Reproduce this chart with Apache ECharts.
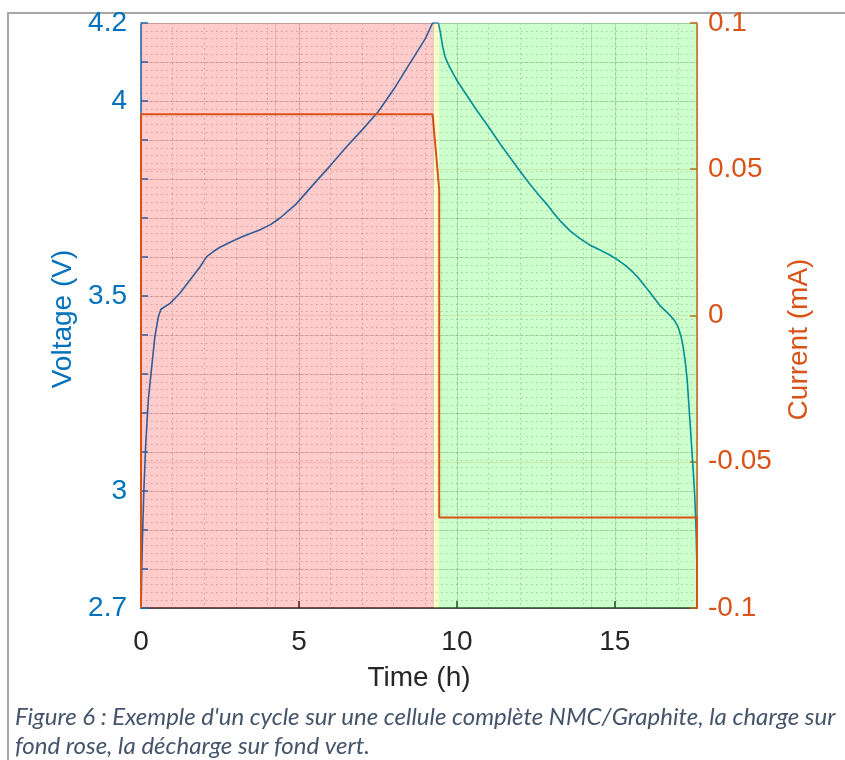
<!DOCTYPE html>
<html><head><meta charset="utf-8">
<script src="https://cdn.jsdelivr.net/npm/echarts@6/dist/echarts.min.js"></script>
<style>html,body{margin:0;padding:0;background:#fff;} #c{width:845px;height:760px;}</style>
</head><body><div id="c"></div>
<script>
// ---- data ----
const voltageTime = [0, 0.04, 0.09, 0.15, 0.23, 0.34, 0.44, 0.55, 0.63, 0.92, 1.23, 1.55, 1.87, 2.08, 2.29, 2.5, 2.82, 3.2, 3.77, 4.1, 4.4, 4.9, 5.5, 6.0, 6.5, 7.0, 7.5, 8.0, 8.5, 9.0, 9.23,
  9.41, 9.44, 9.48, 9.55, 9.62, 9.75, 9.99, 10.3, 10.62, 11.0, 11.36, 11.7, 12.0, 12.3, 12.63, 12.85, 13.04, 13.3, 13.58, 13.9, 14.2, 14.5, 14.84, 15.1, 15.32, 15.55, 15.74, 16.1, 16.42, 16.6, 16.74, 16.88, 17.0, 17.1, 17.16, 17.23, 17.29, 17.36, 17.43, 17.49, 17.53, 17.57, 17.595, 17.6];
const voltageValues = [2.70, 2.86, 3.0, 3.12, 3.233, 3.319, 3.396, 3.447, 3.466, 3.481, 3.507, 3.541, 3.575, 3.601, 3.614, 3.625, 3.638, 3.652, 3.67, 3.683, 3.70, 3.735, 3.79, 3.835, 3.882, 3.926, 3.972, 4.03, 4.095, 4.16, 4.2,
  4.2, 4.19, 4.174, 4.14, 4.114, 4.09, 4.054, 4.016, 3.977, 3.934, 3.891, 3.853, 3.82, 3.788, 3.755, 3.735, 3.715, 3.69, 3.667, 3.647, 3.631, 3.619, 3.605, 3.592, 3.579, 3.563, 3.547, 3.51, 3.476, 3.462, 3.451, 3.438, 3.421, 3.395, 3.37, 3.33, 3.285, 3.2, 3.114, 3.04, 2.985, 2.9, 2.815, 2.70];
const currentTime = [0, 0, 9.23, 9.33, 9.44, 9.44, 17.6, 17.6];
const currentValues = [-0.1, 0.0688, 0.0688, 0.0566, 0.0429, -0.0691, -0.0691, -0.1];
const phaseNames = ['charge', 'relaxation', 'décharge'];
const phaseStart = [0, 9.26, 9.43];
const phaseEnd = [9.26, 9.43, 17.6];
const timeTickLabels = [0, 5, 10, 15];
const voltageTickLabels = [2.7, 3, 3.5, 4, 4.2];
const currentTickLabels = [-0.1, -0.05, 0, 0.05, 0.1];
const overlayGridTimes = [4.26, 9.26, 14.26];
const caption = "Figure 6 : Exemple d'un cycle sur une cellule complète NMC/Graphite, la charge sur\nfond rose, la décharge sur fond vert.";

// ---- styles ----
const FONT = "'Liberation Sans', Arial, sans-serif";
const BLUE = '#0072BD', ORANGE = '#D95319', DARK = '#262626';
const phaseColors = ['rgba(255,0,0,0.2)', 'rgba(255,255,0,0.2)', 'rgba(0,255,0,0.2)'];
const gridSolid = 'rgba(38,38,38,0.15)';
const gridDot = 'rgba(38,38,38,0.28)';

const pick = (list, v) => { const r = Math.round(v * 1000) / 1000; return list.includes(r) ? String(r) : ''; };

const chart = echarts.init(document.getElementById('c'), null, {renderer: 'canvas'});
chart.setOption({
  animation: false,
  textStyle: {fontFamily: FONT},
  title: {
    text: caption, left: 10, top: 698,
    textStyle: {fontFamily: "Lato, 'Open Sans', sans-serif", fontStyle: 'italic', fontWeight: 'normal', fontSize: 24, color: '#44546A', lineHeight: 29}
  },
  graphic: [{type: 'rect', shape: {x: 8, y: 13, width: 860, height: 800}, style: {fill: 'none', stroke: '#A6A6A6', lineWidth: 2}, silent: true}],
  grid: {left: 141, top: 23, width: 556, height: 585},
  xAxis: [
    {type: 'value', min: 0, max: 17.6, interval: 5, position: 'bottom',
     axisLine: {show: true, onZero: false, lineStyle: {color: DARK, width: 1.5}},
     axisTick: {show: true, inside: true, length: 7, lineStyle: {color: DARK, width: 1.5}},
     axisLabel: {formatter: v => pick(timeTickLabels, v), fontSize: 28, color: DARK, margin: 20, fontFamily: FONT},
     splitLine: {show: true, lineStyle: {color: gridSolid, width: 1}},
     name: 'Time (h)', nameLocation: 'middle', nameGap: 56,
     nameTextStyle: {fontSize: 28, color: DARK, fontFamily: FONT}},
    {type: 'value', min: 0, max: 17.6, interval: 1, position: 'top',
     axisLine: {show: true, onZero: false, lineStyle: {color: '#c4c4c4', width: 1}},
     axisTick: {show: false}, axisLabel: {show: false},
     splitLine: {show: true, lineStyle: {color: gridDot, width: 1, type: [1.5, 3.5]}}}
  ],
  yAxis: [
    {type: 'value', position: 'left', min: 2.7, max: 4.2, interval: 0.1,
     axisLine: {show: true, onZero: false, lineStyle: {color: BLUE, width: 1.5}},
     axisTick: {show: true, inside: true, length: 7, lineStyle: {color: BLUE, width: 1.5}},
     axisLabel: {formatter: v => pick(voltageTickLabels, v), fontSize: 28, color: BLUE, margin: 14, fontFamily: FONT},
     splitLine: {show: true, lineStyle: {color: gridSolid, width: 1}},
     name: 'Voltage (V)', nameLocation: 'middle', nameGap: 53,
     nameTextStyle: {fontSize: 28, color: BLUE, fontFamily: FONT, padding: [0, 7, 0, 0]}},
    {type: 'value', position: 'right', min: -0.1, max: 0.1, interval: 0.05,
     axisLine: {show: true, onZero: false, lineStyle: {color: ORANGE, width: 1.5}},
     axisTick: {show: true, inside: true, length: 7, lineStyle: {color: ORANGE, width: 1.5}},
     axisLabel: {formatter: v => pick(currentTickLabels, v), fontSize: 28, color: ORANGE, margin: 11, fontFamily: FONT},
     splitLine: {show: true, lineStyle: {color: 'rgba(217,83,25,0.18)', width: 1}},
     name: 'Current (mA)', nameLocation: 'middle', nameGap: 88,
     nameTextStyle: {fontSize: 28, color: ORANGE, fontFamily: FONT, padding: [0, 48, 0, 0]}},
    {type: 'value', position: 'left', min: 2.7, max: 4.2, interval: 0.02,
     axisLine: {show: false}, axisTick: {show: false}, axisLabel: {show: false},
     splitLine: {show: true, lineStyle: {color: gridDot, width: 1, type: [1.5, 3.5]}}}
  ],
  series: [
    {name: 'Voltage', type: 'line', xAxisIndex: 0, yAxisIndex: 0, z: 2,
     data: voltageTime.map((t, i) => [t, voltageValues[i]]),
     showSymbol: false, lineStyle: {color: BLUE, width: 1.6}, itemStyle: {color: BLUE},
     markLine: {silent: true, symbol: 'none', label: {show: false},
       lineStyle: {color: gridSolid, type: 'solid', width: 1},
       data: overlayGridTimes.map(t => ({xAxis: t}))}},
    {name: 'Phases', type: 'custom', xAxisIndex: 0, yAxisIndex: 0, z: 3, silent: true, clip: true,
     data: phaseStart.map((s, i) => [s, phaseEnd[i], i]),
     renderItem: (params, api) => {
       const p0 = api.coord([api.value(0), 4.2]);
       const p1 = api.coord([api.value(1), 2.7]);
       return {type: 'rect', shape: {x: p0[0], y: p0[1], width: p1[0] - p0[0], height: p1[1] - p0[1]},
               style: {fill: phaseColors[api.value(2)]}};
     }},
    {name: 'Current', type: 'line', xAxisIndex: 0, yAxisIndex: 1, z: 4,
     data: currentTime.map((t, i) => [t, currentValues[i]]),
     showSymbol: false, lineStyle: {color: ORANGE, width: 2}, itemStyle: {color: ORANGE}}
  ]
});
</script></body></html>
